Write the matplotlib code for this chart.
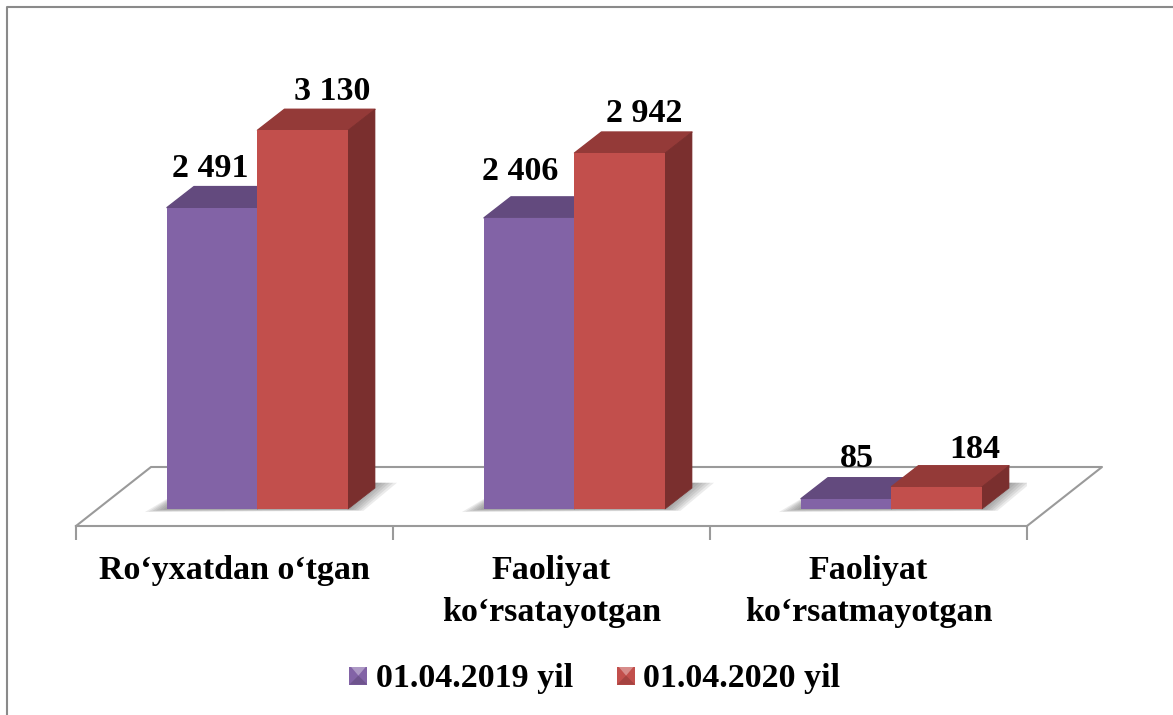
import matplotlib.pyplot as plt
from matplotlib.lines import Line2D
from matplotlib.patches import Patch, Polygon
from matplotlib.legend_handler import HandlerBase

plt.rcParams['font.family'] = ['Liberation Serif', 'DejaVu Serif']
plt.rcParams['font.weight'] = 'bold'

categories = ['Ro‘yxatdan o‘tgan', 'Faoliyat\nko‘rsatayotgan', 'Faoliyat\nko‘rsatmayotgan']
series_names = ['01.04.2019 yil', '01.04.2020 yil']
values_2019 = [2491, 2406, 85]
values_2020 = [3130, 2942, 184]
labels_2019 = ['2 491', '2 406', '85']
labels_2020 = ['3 130', '2 942', '184']

# face colours: front, top, side
purple = ['#8263A6', '#634A7E', '#533D6C']
red = ['#C24F4C', '#943A38', '#7A2F2E']
floor_color = '#9A9A9A'

W, H = 1173, 715
base_px, axis_px, top_px = 509, 526, 20
px_per_value = 0.121
px_per_cat = 317

bar_w = 90.5 / px_per_cat
bar_start = -0.213
depth_x = 27 / px_per_cat
depth_y = 21 / px_per_value

# label offsets from the front top centre of each bar, in pixels
nudge_2019 = [(-2, 39), (-9, 46), (11, 40)]
nudge_2020 = [(29, 39), (25, 40), (38, 37)]

fig = plt.figure(figsize=(W / 100, H / 100), dpi=100)
ax = fig.add_axes([76 / W, (H - axis_px) / H, 951 / W, (axis_px - top_px) / H])
ax.set_xlim(-0.5, 2.5)
ax.set_ylim(-(axis_px - base_px) / px_per_value, (base_px - top_px) / px_per_value)
ax.patch.set_alpha(0)
for s in ['top', 'left', 'right']:
    ax.spines[s].set_visible(False)
ax.spines['bottom'].set_color(floor_color)
ax.spines['bottom'].set_linewidth(1.5)
ax.yaxis.set_visible(False)

ax.set_xticks(range(len(categories)))
ax.set_xticklabels(categories, fontsize=24.5, linespacing=1.45)
ax.set_xticks([-0.5, 0.5, 1.5, 2.5], minor=True)
ax.tick_params(axis='x', which='major', length=0, pad=21)
ax.tick_params(axis='x', which='minor', length=10, width=1.5, color=floor_color)

# floor outline
y0 = ax.get_ylim()[0]
floor_dx = 75 / px_per_cat
floor_dy = 59 / px_per_value
ax.plot([-0.5, -0.5 + floor_dx, 2.5 + floor_dx, 2.5],
        [y0, y0 + floor_dy, y0 + floor_dy, y0],
        color=floor_color, lw=1.5, clip_on=False, zorder=1)


def draw_shadow(x_left, x_right):
    # soft shadow on the floor, built from a few faint layers
    for k in range(6):
        grow = (6 - k) / 6
        sx = 22 * grow / px_per_cat
        ax.add_patch(Polygon([(x_left - sx, -25 * grow), (x_left + depth_x, depth_y * 1.25),
                              (x_right + depth_x + sx, depth_y * 1.25),
                              (x_right + sx * 0.7, -15 * grow)],
                             closed=True, fc='#505050', ec='none', alpha=0.11, zorder=1.5))


def draw_bar(x_left, value, colors):
    x_right = x_left + bar_w
    ax.bar(x_left, value, width=bar_w, align='edge', color=colors[0], zorder=3)
    ax.add_patch(Polygon([(x_left, value), (x_left + depth_x, value + depth_y),
                          (x_right + depth_x, value + depth_y), (x_right, value)],
                         closed=True, fc=colors[1], ec=colors[1], lw=1, joinstyle='round', zorder=2.5))
    ax.add_patch(Polygon([(x_right, 0), (x_right + depth_x, depth_y),
                          (x_right + depth_x, value + depth_y), (x_right, value)],
                         closed=True, fc=colors[2], ec=colors[2], lw=0.5, joinstyle='round', zorder=2.5))


for i in range(len(categories)):
    x1 = i + bar_start
    x2 = x1 + bar_w
    draw_shadow(x1, x2 + bar_w)
    draw_bar(x1, values_2019[i], purple)
    draw_bar(x2, values_2020[i], red)
    ax.annotate(labels_2019[i], (x1 + bar_w / 2, values_2019[i]), xytext=nudge_2019[i],
                textcoords='offset pixels', ha='center', va='center', fontsize=24.5, zorder=5)
    ax.annotate(labels_2020[i], (x2 + bar_w / 2, values_2020[i]), xytext=nudge_2020[i],
                textcoords='offset pixels', ha='center', va='center', fontsize=24.5, zorder=5)


class BevelHandler(HandlerBase):
    # small bevelled square key
    def create_artists(self, legend, orig, xd, yd, width, height, fontsize, trans):
        c = orig.get_facecolor()
        s = 13
        x0 = -xd + width - s - 1
        y0 = -yd + height / 2 - s / 2
        front = Polygon([(x0, y0), (x0 + s, y0), (x0 + s, y0 + s), (x0, y0 + s)],
                        closed=True, fc=c, ec='none', transform=trans)
        tip = Polygon([(x0 + 1, y0 + s), (x0 + s - 1, y0 + s), (x0 + s / 2, y0 + s / 2)],
                      closed=True, fc='white', alpha=0.35, ec='none', transform=trans)
        low = Polygon([(x0, y0), (x0 + s, y0), (x0 + s / 2, y0 + s / 2)],
                      closed=True, fc='black', alpha=0.15, ec='none', transform=trans)
        return [front, low, tip]


handles = [Patch(fc=purple[0]), Patch(fc=red[0])]
fig.legend(handles, series_names, handler_map={Patch: BevelHandler()},
           loc='center', bbox_to_anchor=(591 / W, 1 - 679 / H), ncol=2, frameon=False,
           fontsize=24.5, handlelength=0.8, handletextpad=0.2, columnspacing=1.07,
           borderpad=0)

# chart frame, only left and top survive in the crop
fig.add_artist(Line2D([7 / W, 7 / W, 1], [0, 1 - 7 / H, 1 - 7 / H], color='#8A8A8A', lw=1.5))

fig.savefig('out.png', dpi=100)
